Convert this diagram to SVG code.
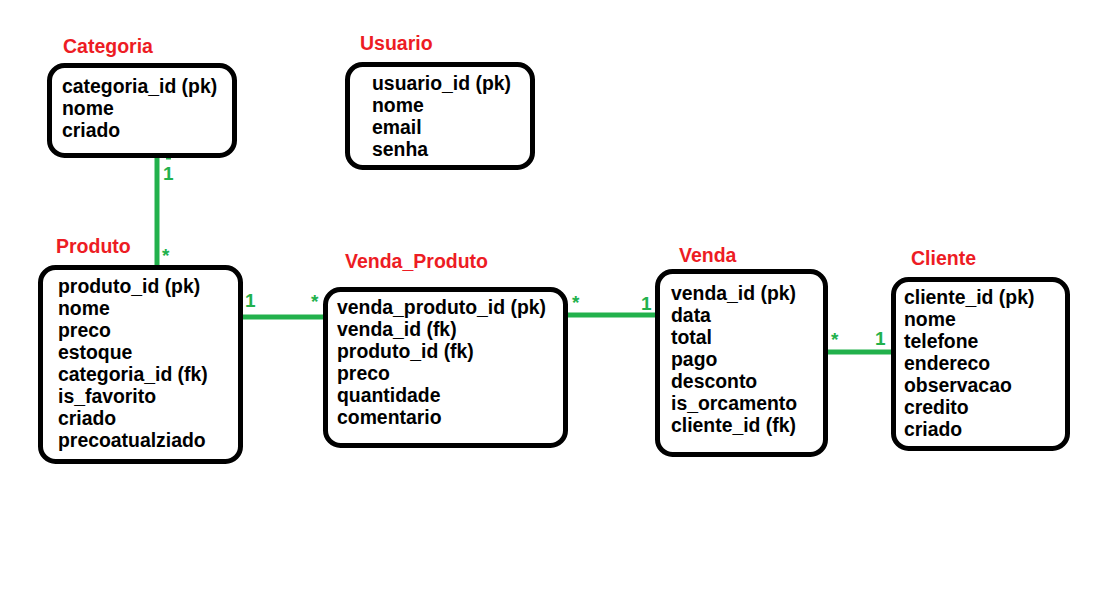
<svg xmlns="http://www.w3.org/2000/svg" width="1110" height="612" viewBox="0 0 1110 612">
<style>
.box{fill:#fff;stroke:#000;stroke-width:5}
.t{font-family:"Liberation Sans",Arial,sans-serif;font-weight:bold;font-size:19.4px;fill:#000}
.h{font-family:"Liberation Sans",Arial,sans-serif;font-weight:bold;font-size:19.5px;fill:#ed1c24}
.c{stroke:#22b14c;stroke-width:5;fill:none}
.m{font-family:"Liberation Sans",Arial,sans-serif;font-weight:bold;font-size:19px;fill:#22b14c}
</style>
<rect width="1110" height="612" fill="#fff"/>
<g id="connectors">
<line class="c" x1="157" y1="156" x2="157" y2="268"/>
<line class="c" x1="166" y1="157" x2="171" y2="157" stroke-width="2"/>
<text class="m" x="163" y="180">1</text>
<text class="m" x="162" y="262" font-size="14">*</text>
<line class="c" x1="241" y1="317" x2="327" y2="317"/>
<text class="m" x="245" y="307">1</text>
<text class="m" x="311" y="308" font-size="14">*</text>
<line class="c" x1="566" y1="315" x2="658" y2="315"/>
<text class="m" x="572" y="309" font-size="14">*</text>
<text class="m" x="641" y="310">1</text>
<line class="c" x1="826" y1="352" x2="893" y2="352"/>
<text class="m" x="831" y="346" font-size="14">*</text>
<text class="m" x="875" y="345">1</text>
<line class="c" x1="774" y1="269" x2="774" y2="273" stroke-width="3"/>
</g>
<g id="categoria">
<text class="h" x="63" y="53">Categoria</text>
<rect class="box" x="49.5" y="65.5" width="185" height="90" rx="15"/>
<text class="t" x="62" y="93">categoria_id (pk)</text>
<text class="t" x="62" y="115">nome</text>
<text class="t" x="62" y="137">criado</text>
</g>
<g id="usuario">
<text class="h" x="360" y="50">Usuario</text>
<rect class="box" x="347.5" y="64.5" width="185" height="103" rx="15"/>
<text class="t" x="372" y="90">usuario_id (pk)</text>
<text class="t" x="372" y="112">nome</text>
<text class="t" x="372" y="134">email</text>
<text class="t" x="372" y="156">senha</text>
</g>
<g id="produto">
<text class="h" x="56" y="253">Produto</text>
<rect class="box" x="40.5" y="267.5" width="200" height="194" rx="15"/>
<text class="t" x="58" y="293">produto_id (pk)</text>
<text class="t" x="58" y="315">nome</text>
<text class="t" x="58" y="337">preco</text>
<text class="t" x="58" y="359">estoque</text>
<text class="t" x="58" y="381">categoria_id (fk)</text>
<text class="t" x="58" y="403">is_favorito</text>
<text class="t" x="58" y="425">criado</text>
<text class="t" x="58" y="447">precoatualziado</text>
</g>
<g id="venda_produto">
<text class="h" x="345" y="268">Venda_Produto</text>
<rect class="box" x="325.5" y="289.5" width="240" height="156" rx="15"/>
<text class="t" x="337" y="314">venda_produto_id (pk)</text>
<text class="t" x="337" y="336">venda_id (fk)</text>
<text class="t" x="337" y="358">produto_id (fk)</text>
<text class="t" x="337" y="380">preco</text>
<text class="t" x="337" y="402">quantidade</text>
<text class="t" x="337" y="424">comentario</text>
</g>
<g id="venda">
<text class="h" x="679" y="262">Venda</text>
<rect class="box" x="657.5" y="271.5" width="168" height="183" rx="15"/>
<text class="t" x="671" y="300">venda_id (pk)</text>
<text class="t" x="671" y="322">data</text>
<text class="t" x="671" y="344">total</text>
<text class="t" x="671" y="366">pago</text>
<text class="t" x="671" y="388">desconto</text>
<text class="t" x="671" y="410">is_orcamento</text>
<text class="t" x="671" y="432">cliente_id (fk)</text>
</g>
<g id="cliente">
<text class="h" x="911" y="265">Cliente</text>
<rect class="box" x="893.5" y="279.5" width="174" height="169" rx="15"/>
<text class="t" x="904" y="304">cliente_id (pk)</text>
<text class="t" x="904" y="326">nome</text>
<text class="t" x="904" y="348">telefone</text>
<text class="t" x="904" y="370">endereco</text>
<text class="t" x="904" y="392">observacao</text>
<text class="t" x="904" y="414">credito</text>
<text class="t" x="904" y="436">criado</text>
</g>
</svg>
